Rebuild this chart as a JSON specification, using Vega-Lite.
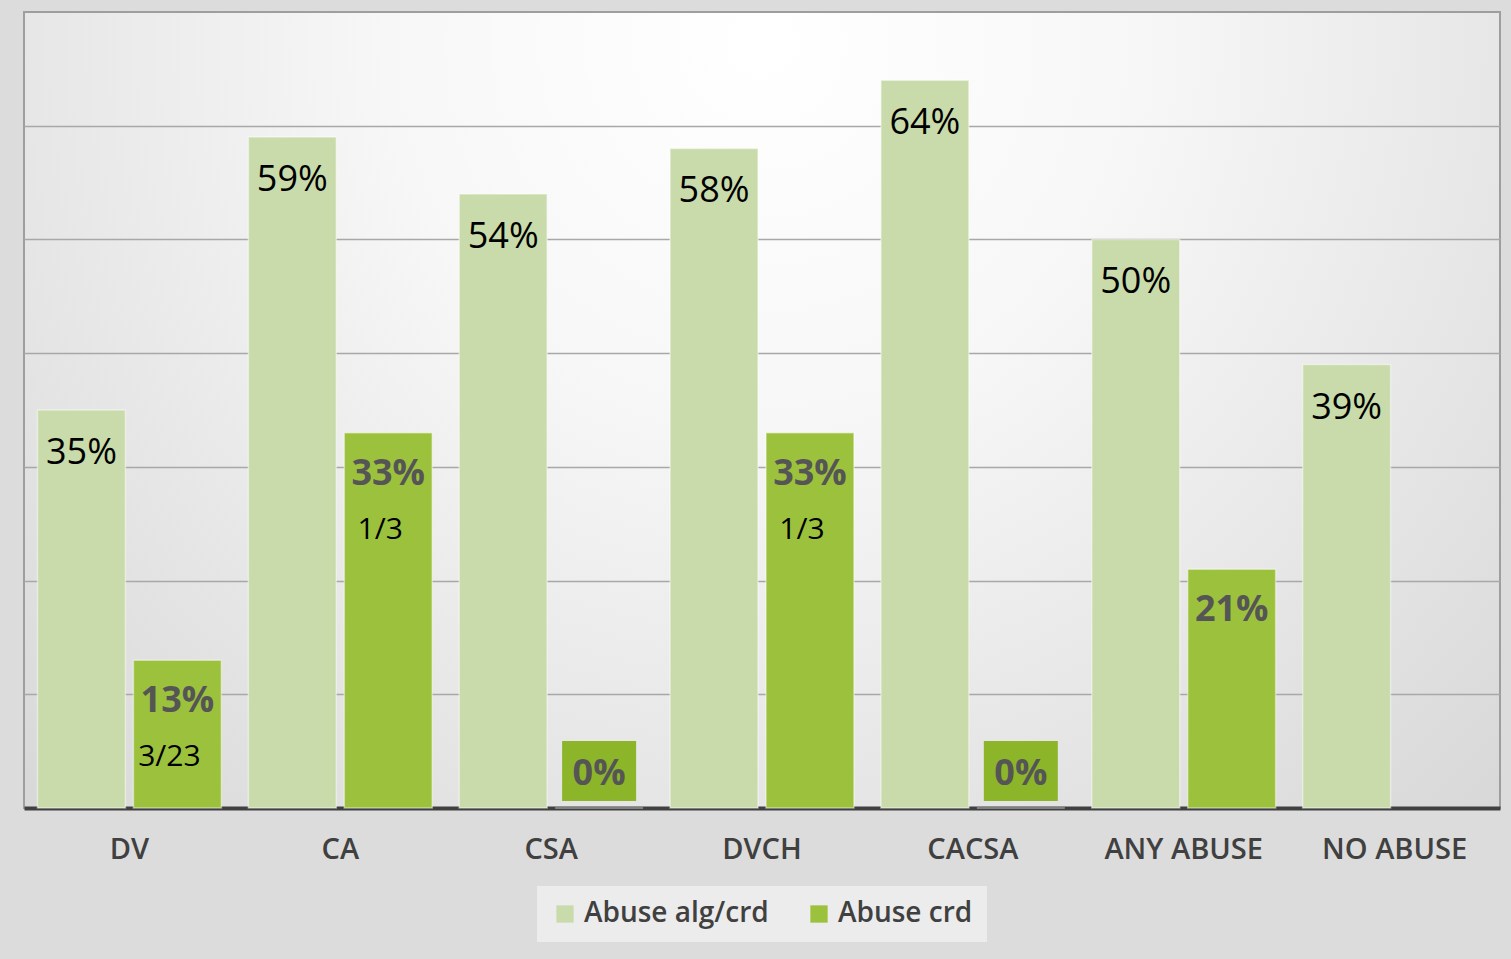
{
  "$schema": "https://vega.github.io/schema/vega-lite/v6.json",
  "width": 1476,
  "height": 796,
  "padding": {"left": 24, "top": 12, "right": 11, "bottom": 30},
  "autosize": {"type": "pad"},
  "background": "#dcdcdc",
  "config": {
    "font": "Open Sans",
    "view": {
      "stroke": "#9e9e9e",
      "strokeWidth": 2,
      "fill": {
        "gradient": "radial",
        "x1": 0.5, "y1": 0.25, "r1": 0,
        "x2": 0.5, "y2": 0.25, "r2": 0.85,
        "stops": [
          {"offset": 0, "color": "#ffffff"},
          {"offset": 0.3, "color": "#f7f7f7"},
          {"offset": 1, "color": "#cfcfcf"}
        ]
      }
    },
    "legend": {"layout": {"bottom": {"anchor": "middle"}}}
  },
  "data": {
    "values": [
      {"cat": "DV", "series": "Abuse alg/crd", "value": 35, "label": "35%"},
      {"cat": "DV", "series": "Abuse crd", "value": 13, "label": "13%", "frac": "3/23"},
      {"cat": "CA", "series": "Abuse alg/crd", "value": 59, "label": "59%"},
      {"cat": "CA", "series": "Abuse crd", "value": 33, "label": "33%", "frac": "1/3"},
      {"cat": "CSA", "series": "Abuse alg/crd", "value": 54, "label": "54%"},
      {"cat": "CSA", "series": "Abuse crd", "value": 0, "label": "0%"},
      {"cat": "DVCH", "series": "Abuse alg/crd", "value": 58, "label": "58%"},
      {"cat": "DVCH", "series": "Abuse crd", "value": 33, "label": "33%", "frac": "1/3"},
      {"cat": "CACSA", "series": "Abuse alg/crd", "value": 64, "label": "64%"},
      {"cat": "CACSA", "series": "Abuse crd", "value": 0, "label": "0%"},
      {"cat": "ANY ABUSE", "series": "Abuse alg/crd", "value": 50, "label": "50%"},
      {"cat": "ANY ABUSE", "series": "Abuse crd", "value": 21, "label": "21%"},
      {"cat": "NO ABUSE", "series": "Abuse alg/crd", "value": 39, "label": "39%"}
    ]
  },
  "encoding": {
    "x": {
      "field": "cat",
      "type": "nominal",
      "sort": ["DV", "CA", "CSA", "DVCH", "CACSA", "ANY ABUSE", "NO ABUSE"],
      "scale": {"paddingInner": 0.128, "paddingOuter": 0.064},
      "axis": {
        "title": null,
        "labelAngle": 0,
        "ticks": false,
        "tickSize": 0,
        "domainColor": "#404040",
        "domainWidth": 4,
        "labelFont": "Open Sans",
        "labelFontSize": 29,
        "labelFontWeight": 600,
        "labelColor": "#404040",
        "labelPadding": 27,
        "labelLimit": 400
      }
    },
    "xOffset": {
      "field": "series",
      "type": "nominal",
      "sort": ["Abuse alg/crd", "Abuse crd"],
      "scale": {"paddingInner": 0.0833, "paddingOuter": 0}
    },
    "y": {
      "field": "value",
      "type": "quantitative",
      "scale": {"domain": [0, 70], "nice": false},
      "axis": {
        "title": null,
        "labels": false,
        "ticks": false,
        "domain": false,
        "grid": true,
        "values": [10, 20, 30, 40, 50, 60],
        "gridColor": "#a8a8a8",
        "gridWidth": 1.5
      }
    }
  },
  "layer": [
    {
      "mark": {"type": "bar", "stroke": "#ffffff", "strokeOpacity": 0.45, "strokeWidth": 1.5},
      "encoding": {
        "color": {
          "field": "series",
          "type": "nominal",
          "scale": {"domain": ["Abuse alg/crd", "Abuse crd"], "range": ["#c9dbab", "#9cc23d"]},
          "legend": {
            "orient": "bottom",
            "direction": "horizontal",
            "title": null,
            "labelFont": "Open Sans",
            "labelFontSize": 28,
            "labelFontWeight": 600,
            "labelColor": "#404040",
            "labelLimit": 400,
            "symbolType": "square",
            "symbolSize": 300,
            "symbolStrokeWidth": 0,
            "symbolOpacity": 1,
            "fillColor": "#ececec",
            "padding": 14,
            "columnPadding": 36,
            "labelOffset": 5,
            "offset": 22
          }
        }
      }
    },
    {
      "transform": [{"filter": "datum.value === 0"}],
      "mark": {
        "type": "point",
        "shape": "M-1,-0.81H1V0.81H-1Z",
        "filled": true,
        "size": 5476,
        "color": "#8db52a",
        "opacity": 1,
        "strokeWidth": 0,
        "yOffset": -37
      }
    },
    {
      "transform": [{"filter": "datum.series === 'Abuse alg/crd'"}],
      "mark": {"type": "text", "baseline": "alphabetic", "dy": 54, "fontSize": 36, "color": "#000000", "font": "Open Sans"},
      "encoding": {"text": {"field": "label"}}
    },
    {
      "transform": [{"filter": "datum.series === 'Abuse crd' && datum.value > 0"}],
      "mark": {"type": "text", "baseline": "alphabetic", "dy": 52, "fontSize": 36, "fontWeight": "bold", "color": "#555555", "font": "Open Sans"},
      "encoding": {"text": {"field": "label"}}
    },
    {
      "transform": [{"filter": "datum.value === 0"}],
      "mark": {"type": "text", "baseline": "alphabetic", "dy": -23, "fontSize": 36, "fontWeight": "bold", "color": "#555555", "font": "Open Sans"},
      "encoding": {"text": {"field": "label"}}
    },
    {
      "transform": [{"filter": "datum.frac != null"}],
      "mark": {"type": "text", "baseline": "alphabetic", "dy": 106, "dx": -8, "fontSize": 30, "color": "#000000", "font": "Open Sans"},
      "encoding": {"text": {"field": "frac"}}
    }
  ]
}
